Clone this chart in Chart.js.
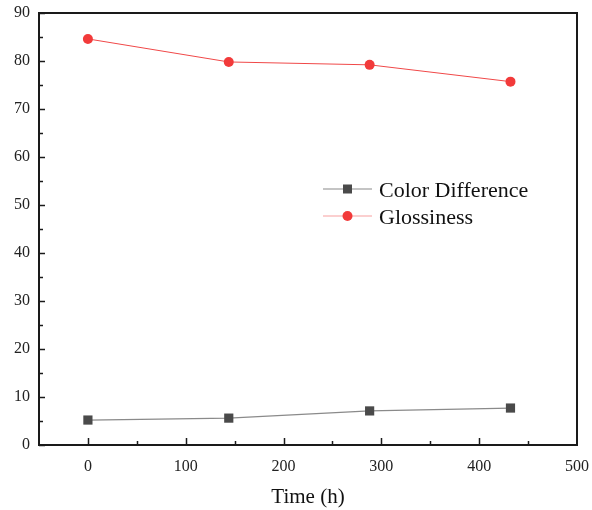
<!DOCTYPE html>
<html>
<head>
<meta charset="utf-8">
<script src="https://cdn.jsdelivr.net/npm/chart.js@4.4.0/dist/chart.umd.min.js"></script>
<style>
  html, body { margin: 0; padding: 0; background: #fff; }
  #wrap { width: 592px; height: 510px; }
</style>
</head>
<body>
<div id="wrap"><canvas id="chart" width="592" height="510"></canvas></div>
<script>
// Data
const timeHours = [0, 144, 288, 432];
const colorDifference = [5.2, 5.6, 7.1, 7.7];
const glossiness = [84.6, 79.8, 79.2, 75.7];
const seriesNames = ['Color Difference', 'Glossiness'];
const xTickValues = [0, 100, 200, 300, 400, 500];
const yTickValues = [0, 10, 20, 30, 40, 50, 60, 70, 80, 90];
const xMinorTicks = [50, 150, 250, 350, 450];
const yMinorTicks = [5, 15, 25, 35, 45, 55, 65, 75, 85];

const FONT = "'Liberation Serif', 'Times New Roman', serif";

/**
 * Build {x, y} points for a scatter dataset
 */
function toPoints(xs, ys) {
    return xs.map((x, i) => ({ x: x, y: ys[i] }));
}

/**
 * Frame around plot area plus inward tick marks
 */
const frameTicks = {
    id: 'frameTicks',
    afterDatasetsDraw(chart) {
        const { ctx, chartArea: a, scales } = chart;
        ctx.save();
        ctx.strokeStyle = '#1a1a1a';
        ctx.lineWidth = 1.5;
        // major x ticks
        xTickValues.forEach(v => {
            const px = Math.round(scales.x.getPixelForValue(v)) + 0.5;
            if (px >= a.right - 1) return;
            ctx.beginPath();
            ctx.moveTo(px, a.bottom);
            ctx.lineTo(px, a.bottom - 7);
            ctx.stroke();
        });
        xMinorTicks.forEach(v => {
            const px = Math.round(scales.x.getPixelForValue(v)) + 0.5;
            ctx.beginPath();
            ctx.moveTo(px, a.bottom);
            ctx.lineTo(px, a.bottom - 4);
            ctx.stroke();
        });
        yTickValues.forEach(v => {
            const py = Math.round(scales.y.getPixelForValue(v)) + 0.5;
            ctx.beginPath();
            ctx.moveTo(a.left, py);
            ctx.lineTo(a.left + 6, py);
            ctx.stroke();
        });
        yMinorTicks.forEach(v => {
            const py = Math.round(scales.y.getPixelForValue(v)) + 0.5;
            ctx.beginPath();
            ctx.moveTo(a.left, py);
            ctx.lineTo(a.left + 4, py);
            ctx.stroke();
        });
        // box
        ctx.lineWidth = 2;
        ctx.strokeRect(a.left, a.top, a.right - a.left, a.bottom - a.top);
        ctx.restore();
    }
};

/**
 * Legend drawn as line + marker + label, like the original figure
 */
const lineLegend = {
    id: 'lineLegend',
    afterDraw(chart) {
        const { ctx } = chart;
        const x0 = 323, x1 = 372, tx = 379;
        const rows = [189, 216];
        ctx.save();
        chart.data.datasets.forEach((ds, i) => {
            const y = rows[i];
            ctx.strokeStyle = ds.legendLineColor;
            ctx.lineWidth = 1.2;
            ctx.beginPath();
            ctx.moveTo(x0, y);
            ctx.lineTo(x1, y);
            ctx.stroke();
            ctx.fillStyle = ds.pointBackgroundColor;
            const mx = (x0 + x1) / 2;
            if (ds.pointStyle === 'rect') {
                ctx.fillRect(mx - 4.5, y - 4.5, 9, 9);
            } else {
                ctx.beginPath();
                ctx.arc(mx, y, 5, 0, Math.PI * 2);
                ctx.fill();
            }
            ctx.fillStyle = '#111';
            ctx.font = '22px ' + FONT;
            ctx.textBaseline = 'alphabetic';
            ctx.fillText(ds.label, tx, y + 8);
        });
        ctx.restore();
    }
};

const chart = new Chart(document.getElementById('chart'), {
    type: 'scatter',
    data: {
        datasets: [
            {
                label: seriesNames[0],
                data: toPoints(timeHours, colorDifference),
                showLine: true,
                borderColor: '#8a8a8a',
                borderWidth: 1.2,
                pointStyle: 'rect',
                pointRadius: 6.5,
                pointBackgroundColor: '#4a4a4a',
                pointBorderColor: '#4a4a4a',
                pointBorderWidth: 0,
                legendLineColor: '#8a8a8a'
            },
            {
                label: seriesNames[1],
                data: toPoints(timeHours, glossiness),
                showLine: true,
                borderColor: '#f04848',
                borderWidth: 1,
                pointStyle: 'circle',
                pointRadius: 5,
                pointBackgroundColor: '#f23a3a',
                pointBorderColor: '#f23a3a',
                pointBorderWidth: 0,
                legendLineColor: '#f7a0a0'
            }
        ]
    },
    options: {
        responsive: false,
        animation: false,
        devicePixelRatio: 1,
        layout: { padding: { top: 13, right: 15, left: 0, bottom: 0 } },
        plugins: {
            legend: { display: false },
            tooltip: { enabled: false }
        },
        scales: {
            x: {
                type: 'linear',
                min: -50,
                max: 500,
                afterBuildTicks: scale => { scale.ticks = xTickValues.map(v => ({ value: v })); },
                afterFit: scale => {
                    scale.height = 65;
                    scale.paddingLeft = 0;
                    scale.paddingRight = 0;
                },
                grid: { display: false, drawTicks: false },
                border: { display: false },
                ticks: {
                    color: '#222',
                    padding: 12,
                    maxRotation: 0,
                    font: { family: FONT, size: 16 }
                },
                title: {
                    display: true,
                    text: 'Time (h)',
                    color: '#111',
                    font: { family: FONT, size: 21 },
                    padding: { top: 0, bottom: 0 }
                }
            },
            y: {
                min: 0,
                max: 90,
                afterBuildTicks: scale => { scale.ticks = yTickValues.map(v => ({ value: v })); },
                afterFit: scale => {
                    scale.width = 39;
                    scale.paddingTop = 0;
                    scale.paddingBottom = 0;
                },
                grid: { display: false, drawTicks: false },
                border: { display: false },
                ticks: {
                    color: '#222',
                    padding: 9,
                    font: { family: FONT, size: 16 }
                }
            }
        }
    },
    plugins: [frameTicks, lineLegend]
});
</script>
</body>
</html>
